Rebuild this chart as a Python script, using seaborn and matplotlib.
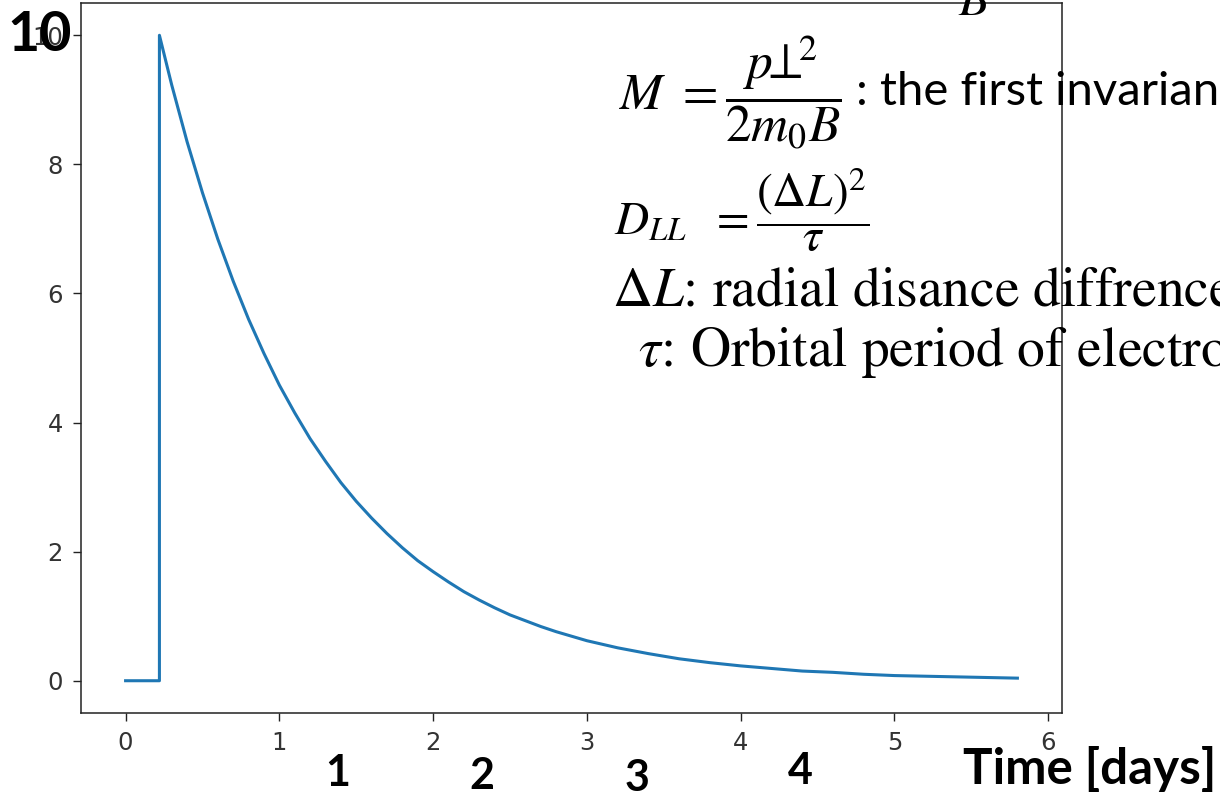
import matplotlib
matplotlib.use("Agg")
import matplotlib.pyplot as plt
import seaborn as sns
import pandas as pd

# ---- data ----
time_days = [0.0, 0.22, 0.22, 0.3, 0.4, 0.5, 0.6, 0.7, 0.8, 0.9, 1.0, 1.1, 1.2,
             1.3, 1.4, 1.5, 1.6, 1.7, 1.8, 1.9, 2.0, 2.1, 2.2, 2.3, 2.4, 2.5,
             2.6, 2.7, 2.8, 2.9, 3.0, 3.2, 3.4, 3.6, 3.8, 4.0, 4.2, 4.4, 4.6,
             4.8, 5.0, 5.2, 5.4, 5.6, 5.8]
signal = [0.0, 0.0, 10.0, 9.23, 8.35, 7.56, 6.84, 6.19, 5.60, 5.07, 4.58, 4.15, 3.75,
          3.40, 3.07, 2.78, 2.52, 2.28, 2.06, 1.86, 1.69, 1.53, 1.38, 1.25, 1.13, 1.02,
          0.93, 0.84, 0.76, 0.69, 0.62, 0.51, 0.42, 0.34, 0.28, 0.23, 0.19, 0.15, 0.13,
          0.10, 0.08, 0.07, 0.06, 0.05, 0.04]
x_ticks = [0, 1, 2, 3, 4, 5, 6]
y_ticks = [0, 2, 4, 6, 8, 10]
slide_numbers = ["1", "2", "3", "4"]
x_label = "Time [days]"
big_label = "10"
eq_invariant = r"$M\ =\dfrac{p\!\!\perp\!\!^{2}}{2m_{0}B}$"
eq_invariant_text = ": the first invariant"
eq_dll = r"$D_{LL}\ \ =\dfrac{(\Delta L)^{2}}{\tau}$"
def_dl = r"$\Delta L$: radial disance diffrence"
def_tau = r"$\tau$: Orbital period of electrons"
top_fragment = r"$B^{2}$"

df = pd.DataFrame({"t": time_days, "v": signal})

plt.rcParams["mathtext.fontset"] = "stix"

W, H = 1220, 799
fig = plt.figure(figsize=(W / 100, H / 100), dpi=100, facecolor="white")
ax = fig.add_axes([81 / W, 1 - 713 / H, (1062 - 81) / W, (713 - 3) / H])

sns.lineplot(data=df, x="t", y="v", estimator=None, sort=False, ax=ax,
             color="#1f77b4", linewidth=2.2)

ax.set_xlim(-0.29, 6.09)
ax.set_ylim(-0.5, 10.5)
ax.set_xticks(x_ticks)
ax.set_yticks(y_ticks)
ax.set_xticklabels([str(v) for v in x_ticks])
ax.set_yticklabels([str(v) for v in y_ticks])
ax.set_xlabel("")
ax.set_ylabel("")
ax.tick_params(length=6, width=1.0, labelsize=17.5, pad=7, colors="#222222",
               labelcolor="#333333")
for s in ax.spines.values():
    s.set_linewidth(1.1)
    s.set_color("#222222")


def P(x, y):
    return x / W, 1 - y / H


# overlay slide texts
fig.text(*P(40, 35), big_label, fontsize=40, fontweight="bold", family="Lato",
         ha="center", va="center", color="black")

num_pos = [(338, 773), (482, 776), (637, 778), (800, 771)]
for lab, (x, y) in zip(slide_numbers, num_pos):
    fig.text(*P(x, y), lab, fontsize=31, fontweight="bold", family="Lato",
             ha="center", va="center", color="black")
fig.text(*P(963, 784), x_label, fontsize=35.5, fontweight="bold", family="Lato",
         ha="left", va="baseline", color="black")

fig.text(*P(619, 92), eq_invariant, fontsize=37, ha="left", va="center", color="black")
fig.text(*P(856, 105), eq_invariant_text, fontsize=34, family="Lato",
         ha="left", va="baseline", color="black")
fig.text(*P(614, 210), eq_dll, fontsize=34, ha="left", va="center", color="black")
fig.text(*P(612, 305), def_dl, fontsize=40, family="STIXGeneral",
         ha="left", va="baseline", color="black")
fig.text(*P(638, 366), def_tau, fontsize=40, family="STIXGeneral",
         ha="left", va="baseline", color="black")
fig.text(*P(958, 16), top_fragment, fontsize=36, ha="left", va="baseline", color="black")

fig.savefig("out.png", dpi=100, facecolor="white")
